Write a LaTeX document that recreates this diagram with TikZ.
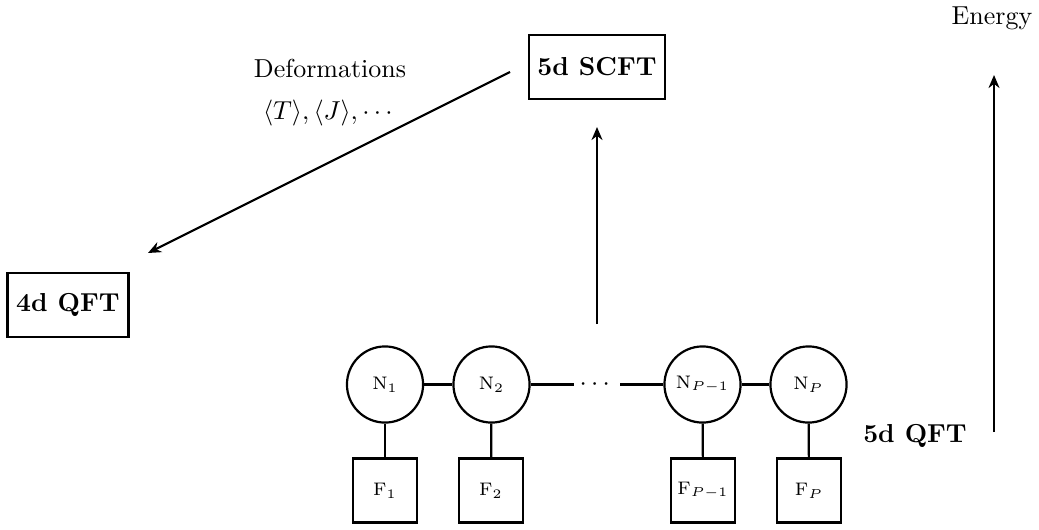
\documentclass[tikz,border=0pt]{standalone}
\usepackage{amsmath}
\usetikzlibrary{arrows.meta}
\begin{document}
\begin{tikzpicture}[x=0.385pt,y=-0.385pt,
  bigbox/.style={draw,line width=0.85pt,inner sep=0pt,minimum height=24.6pt,font=\bfseries},
  gauge/.style={draw,circle,line width=0.85pt,inner sep=0pt,minimum size=29.3pt,font=\scriptsize},
  flav/.style={draw,rectangle,line width=0.85pt,inner sep=0pt,minimum size=24.6pt,font=\scriptsize},
  arr/.style={-{Stealth[length=5pt,width=4.2pt,inset=1.6pt]},line width=0.85pt},
  conn/.style={line width=0.85pt}]
\useasboundingbox (0,0) rectangle (1039,529);

\node[bigbox,minimum width=52.4pt] (scft) at (597,67) {5d SCFT};
\node[bigbox,minimum width=46.6pt] (qft4) at (68,305) {4d QFT};

\node (def) at (330,68) {Deformations};
\node (vev) at (330,113) {$\langle T\rangle,\langle J\rangle,\cdots$};
\node (energy) at (992,18) {Energy};
\node[font=\bfseries] (qft5) at (915,436) {5d QFT};

\node[gauge] (n1) at (385,384.5) {$\mathrm{N}_1$};
\node[gauge] (n2) at (491.5,384.5) {$\mathrm{N}_2$};
\node[inner sep=2pt] (dots) at (597,384.5) {$\cdots$};
\node[gauge] (np1) at (702.5,384.5) {$\mathrm{N}_{P-1}$};
\node[gauge] (np) at (808.5,384.5) {$\mathrm{N}_{P}$};

\node[flav] (f1) at (385,490.5) {$\mathrm{F}_1$};
\node[flav] (f2) at (491,490.5) {$\mathrm{F}_2$};
\node[flav] (fp1) at (703,490.5) {$\mathrm{F}_{P-1}$};
\node[flav] (fp) at (809,490.5) {$\mathrm{F}_{P}$};

\draw[conn] (n1) -- (n2);
\draw[conn] (n2) -- (dots);
\draw[conn] (dots) -- (np1);
\draw[conn] (np1) -- (np);
\draw[conn] (n1) -- (f1);
\draw[conn] (n2) -- (f2);
\draw[conn] (np1) -- (fp1);
\draw[conn] (np) -- (fp);

\coordinate (ea) at (994,432);
\coordinate (eb) at (994,75);
\draw[arr] (ea) -- (eb);

\coordinate (ca) at (597,324);
\coordinate (cb) at (597,127);
\draw[arr] (ca) -- (cb);

\coordinate (da) at (510,72);
\coordinate (db) at (148,253);
\draw[arr] (da) -- (db);
\end{tikzpicture}
\end{document}
